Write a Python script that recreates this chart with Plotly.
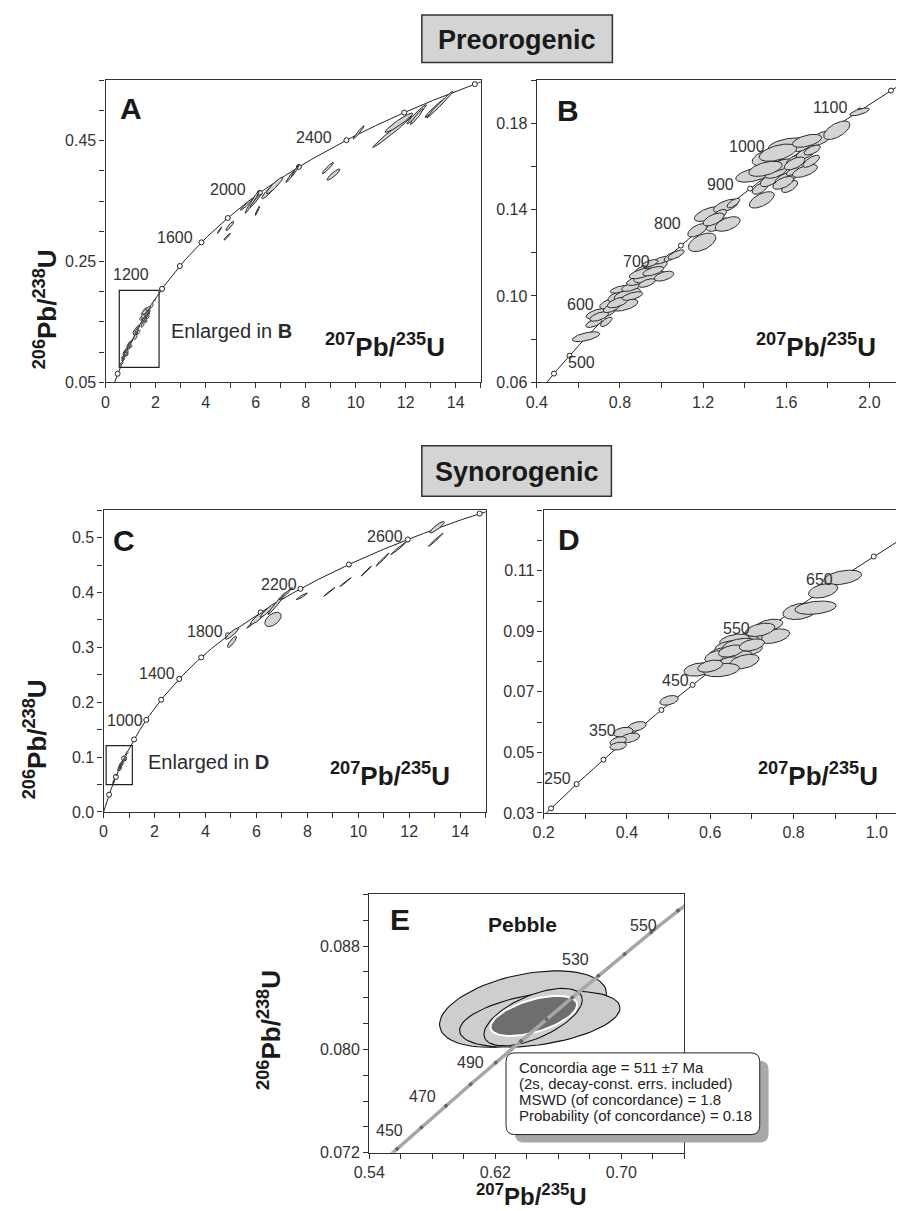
import numpy as np
import plotly.graph_objects as go

W, H = 904, 1211
FONT = "Liberation Sans, Arial, sans-serif"
L238 = 1.55125e-4   # decay constants per Ma
L235 = 9.8485e-4

# ---------------- data ----------------
# Panel B ellipses (also shown inside the box of panel A)
B_cx = [0.637, 0.6745, 0.734, 0.687, 0.745, 0.753, 0.819, 0.781, 0.835, 0.800, 0.855, 0.886, 0.944, 0.918,
        0.9725, 0.999, 0.944, 1.043, 1.070, 1.012, 1.195, 1.173, 1.224, 1.271, 1.318, 1.310, 1.346, 1.278,
        1.482, 1.443, 1.522, 1.616, 1.765, 1.843, 1.953, 1.475, 1.522, 1.553, 1.600, 1.576, 1.647, 1.663,
        1.694, 1.725, 1.616, 1.678, 1.631,
        0.700, 0.760, 0.790, 0.860, 0.905, 0.930, 0.960, 1.250, 1.500, 1.560, 1.640, 1.690, 1.720, 1.585,
        1.700]
B_cy = [0.0811, 0.0874, 0.0880, 0.0918, 0.0923, 0.0966, 0.0958, 0.0997, 0.1008, 0.1031, 0.1043, 0.1072,
        0.1088, 0.1123, 0.1135, 0.1166, 0.1151, 0.1182, 0.1192, 0.1092, 0.1249, 0.1305, 0.1380, 0.1331,
        0.1334, 0.1418, 0.1431, 0.1377, 0.1446, 0.1562, 0.1646, 0.1700, 0.1731, 0.1769, 0.1854, 0.1500,
        0.1538, 0.1577, 0.1546, 0.1608, 0.1631, 0.1592, 0.1662, 0.1677, 0.1508, 0.1692, 0.1577,
        0.0905, 0.0945, 0.0970, 0.1000, 0.1105, 0.1060, 0.1115, 0.1355, 0.1590, 0.1665, 0.1615, 0.1580,
        0.1625, 0.1525, 0.1720]
B_sx = [0.066, 0.039, 0.028, 0.050, 0.031, 0.050, 0.067, 0.039, 0.063, 0.047, 0.047, 0.055, 0.078, 0.047,
        0.055, 0.039, 0.039, 0.031, 0.039, 0.047, 0.066, 0.047, 0.066, 0.055, 0.060, 0.060, 0.031, 0.035,
        0.060, 0.086, 0.086, 0.102, 0.055, 0.063, 0.047, 0.039, 0.047, 0.055, 0.055, 0.055, 0.047, 0.047,
        0.047, 0.039, 0.039, 0.039, 0.031,
        0.045, 0.040, 0.050, 0.050, 0.060, 0.040, 0.050, 0.050, 0.080, 0.090, 0.050, 0.060, 0.040, 0.050,
        0.070]
B_sy = [0.0023, 0.0020, 0.0022, 0.0023, 0.0018, 0.0026, 0.0028, 0.0023, 0.0028, 0.0018, 0.0022, 0.0023,
        0.0028, 0.0023, 0.0028, 0.0018, 0.0018, 0.0022, 0.0022, 0.0023, 0.0043, 0.0031, 0.0034, 0.0031,
        0.0034, 0.0031, 0.0022, 0.0025, 0.0038, 0.0034, 0.0043, 0.0034, 0.0034, 0.0043, 0.0018, 0.0028,
        0.0031, 0.0031, 0.0031, 0.0028, 0.0028, 0.0031, 0.0028, 0.0023, 0.0028, 0.0022, 0.0018,
        0.0022, 0.0022, 0.0025, 0.0020, 0.0025, 0.0020, 0.0022, 0.0030, 0.0035, 0.0040, 0.0030, 0.0030,
        0.0028, 0.0030, 0.0030]
B_rho = [0.6, 0.6, 0.7, 0.6, 0.6, 0.6, 0.5, 0.6, 0.6, 0.6, 0.6, 0.6, 0.5, 0.6, 0.6, 0.6, 0.6, 0.7, 0.7, 0.5,
         0.5, 0.6, 0.6, 0.6, 0.5, 0.6, 0.7, 0.6, 0.6, 0.5, 0.5, 0.4, 0.6, 0.6, 0.7, 0.6, 0.6, 0.6, 0.6, 0.6,
         0.6, 0.6, 0.6, 0.6, 0.6, 0.6, 0.6,
         0.6, 0.6, 0.6, 0.6, 0.6, 0.6, 0.6, 0.6, 0.5, 0.5, 0.6, 0.6, 0.7, 0.6, 0.5]

# Panel A: older grains outside the enlarged box
A_cx = [4.56, 4.97, 4.86, 5.65, 5.87, 6.00, 6.07, 6.50, 6.76, 7.41, 7.58, 8.89, 9.11, 10.12, 11.46, 11.73,
        12.44, 12.44, 13.19, 13.36]
A_cy = [0.302, 0.309, 0.291, 0.345, 0.349, 0.351, 0.334, 0.365, 0.376, 0.392, 0.400, 0.405, 0.394, 0.464,
        0.465, 0.480, 0.494, 0.490, 0.505, 0.510]
A_sx = [0.092, 0.157, 0.13, 0.26, 0.29, 0.22, 0.09, 0.26, 0.33, 0.20, 0.16, 0.22, 0.26, 0.22, 0.78, 0.55,
        0.39, 0.26, 0.42, 0.52]
A_sy = [0.0055, 0.0077, 0.0055, 0.0099, 0.019, 0.011, 0.0077, 0.011, 0.0137, 0.011, 0.010, 0.0093, 0.0093,
        0.011, 0.026, 0.016, 0.016, 0.013, 0.016, 0.022]
A_rho = [0.97, 0.9, 0.95, 0.97, 0.98, 0.97, 0.95, 0.9, 0.93, 0.97, 0.97, 0.95, 0.9, 0.97, 0.99, 0.95,
         0.97, 0.96, 0.98, 0.99]

# Panel D ellipses (also shown inside the box of panel C)
D_cx = [0.918, 0.871, 0.8156, 0.853, 0.741, 0.753, 0.7055, 0.700, 0.686, 0.658, 0.6426, 0.690, 0.627, 0.666,
        0.619, 0.643, 0.682, 0.572, 0.627, 0.611, 0.501, 0.424, 0.391, 0.407, 0.379, 0.379,
        0.670, 0.720, 0.600, 0.650, 0.700]
D_cy = [0.1078, 0.1034, 0.0966, 0.0978, 0.0920, 0.0884, 0.0892, 0.0870, 0.0865, 0.0871, 0.0849, 0.0838,
        0.0827, 0.0816, 0.0800, 0.0794, 0.0800, 0.0774, 0.0772, 0.0816, 0.0672, 0.0586, 0.0567, 0.0548,
        0.0537, 0.0521,
        0.0855, 0.0905, 0.0785, 0.0835, 0.0855]
D_sx = [0.0456, 0.035, 0.041, 0.0495, 0.033, 0.0377, 0.0275, 0.025, 0.0314, 0.0354, 0.0314, 0.035, 0.0314,
        0.035, 0.0275, 0.0275, 0.035, 0.035, 0.043, 0.024, 0.022, 0.022, 0.0236, 0.0236, 0.0197, 0.0197,
        0.040, 0.035, 0.030, 0.030, 0.030]
D_sy = [0.0024, 0.0024, 0.0027, 0.0022, 0.0020, 0.0024, 0.0020, 0.0025, 0.0020, 0.0020, 0.0020, 0.0020,
        0.0020, 0.0020, 0.0020, 0.0022, 0.0024, 0.0022, 0.0022, 0.0020, 0.0016, 0.0016, 0.0016, 0.0016,
        0.0015, 0.0013,
        0.0022, 0.0022, 0.0020, 0.0020, 0.0020]
D_rho = [0.4, 0.4, 0.3, 0.3, 0.4, 0.4, 0.4, 0.5, 0.4, 0.4, 0.4, 0.4, 0.4, 0.4, 0.4, 0.4, 0.4, 0.3, 0.3, 0.4,
         0.4, 0.4, 0.3, 0.4, 0.4, 0.3,
         0.4, 0.4, 0.4, 0.4, 0.4]

# Panel C: older grains outside the enlarged box
C_cx = [5.04, 5.04, 5.88, 6.07, 6.46, 6.80, 7.16, 6.65, 7.78, 8.86, 9.50, 10.31, 10.95, 11.59, 13.04, 13.09]
C_cy = [0.325, 0.310, 0.346, 0.354, 0.368, 0.380, 0.398, 0.351, 0.393, 0.401, 0.419, 0.439, 0.460, 0.481,
        0.496, 0.519]
C_sx = [0.26, 0.18, 0.26, 0.30, 0.32, 0.35, 0.26, 0.32, 0.22, 0.22, 0.22, 0.20, 0.26, 0.32, 0.29, 0.29]
C_sy = [0.0103, 0.0103, 0.011, 0.012, 0.0133, 0.020, 0.011, 0.013, 0.006, 0.0079, 0.0079, 0.009, 0.012,
        0.012, 0.012, 0.0106]
C_rho = [0.9, 0.85, 0.98, 0.9, 0.95, 0.98, 0.98, 0.5, 0.95, 0.99, 0.99, 0.99, 0.99, 0.99, 0.99, 0.9]

# Panel E (pebble): three data ellipses and the concordia-age ellipse
E_cx = [0.6376, 0.6482, 0.6440]
E_cy = [0.08312, 0.08234, 0.0825]
E_sx = [0.053, 0.0509, 0.0312]
E_sy = [0.00296, 0.00217, 0.00222]
E_rho = [0.4, 0.4, 0.6]
AGE_cx, AGE_cy, AGE_sx, AGE_sy, AGE_rho = 0.6444, 0.08259, 0.0275, 0.00155, 0.55

# concordia age ticks (Ma)
AC_ticks = [200, 400, 600, 800, 1000, 1200, 1400, 1600, 1800, 2000, 2200, 2400, 2600, 2800]
B_ticks = [400, 450, 500, 550, 600, 650, 700, 750, 800, 850, 900, 950, 1000, 1050, 1100, 1150, 1200]
D_ticks = [200, 250, 300, 350, 400, 450, 500, 550, 600, 650, 700, 750]
E_ticks = [440, 450, 460, 470, 480, 490, 500, 510, 520, 530, 540, 550, 560]

A_labels = [1200, 1600, 2000, 2400]
B_labels = [500, 600, 700, 800, 900, 1000, 1100]
C_labels = [1000, 1400, 1800, 2200, 2600]
D_labels = [250, 350, 450, 550, 650, 750]
E_labels = [450, 470, 490, 530, 550]

BOX_TEXT = ["Concordia age = 511 \u00b17 Ma", "(2s, decay-const. errs. included)",
            "MSWD (of concordance) = 1.8", "Probability (of concordance) = 0.18"]

# ---------------- styling / layout (pixels) ----------------
A_lab_off = [(-31, -14), (-26, -5), (-32, -3), (-32, -3)]
B_lab_off = [(-4, 25), (-41, 3), (-23, -3), (-35, -3), (-30, -4), (-55, -3), (-29, -3)]
C_lab_off = [(-21, 1), (-22, -5), (-23, -4), (-21, -4), (-23, -3)]
D_lab_off = [(-19, -6), (-29, -4), (-17, -4), (-23, -6), (-14, -3), (-31, -5)]
E_lab_off = [(-8, -18), (-23, -9), (-25, 0), (-23, -16), (-8, -7)]

PANELS = {  # x0, x1, y0(top), y1(bottom) in px
    "A": (83, 465, 73, 377),
    "B": (522, 903, 73, 377),
    "C": (81, 470, 506, 810),
    "D": (529, 904, 506, 811),
    "E": (351.5, 672.3, 893, 1153.3),
}

FILL = "#d3d3d3"
EDGE = "#2a2a2a"
TXT = "#2b2b2b"


def conc(t):
    t = np.asarray(t, float)
    return np.exp(L235 * t) - 1, np.exp(L238 * t) - 1


def ellipse(cx, cy, sx, sy, rho, n=80):
    t = np.linspace(0, 2 * np.pi, n)
    x = cx + sx * np.cos(t)
    y = cy + sy * (rho * np.cos(t) + np.sqrt(1 - rho ** 2) * np.sin(t))
    return x, y


def px2paper(x, y):
    return x / W, 1 - y / H


fig = go.Figure()
axmap = {"A": ("x", "y"), "B": ("x2", "y2"), "C": ("x3", "y3"), "D": ("x4", "y4"), "E": ("x5", "y5")}

curve_t = np.linspace(0, 3000, 1500)


def add_curve(p, ticks, color="#222", width=1, msize=5, mcolor="white", mline="#222"):
    xa, ya = axmap[p]
    cx, cy = conc(curve_t)
    fig.add_trace(go.Scatter(x=cx, y=cy, mode="lines", line=dict(color=color, width=width),
                             xaxis=xa, yaxis=ya, hoverinfo="skip", showlegend=False))
    tx, ty = conc(ticks)
    fig.add_trace(go.Scatter(x=tx, y=ty, mode="markers",
                             marker=dict(size=msize, color=mcolor, line=dict(color=mline, width=1)),
                             xaxis=xa, yaxis=ya, hoverinfo="skip", showlegend=False))


def add_ellipses(p, cxs, cys, sxs, sys, rhos, fill=FILL, edge=EDGE, lw=1):
    xa, ya = axmap[p]
    for cx, cy, sx, sy, r in zip(cxs, cys, sxs, sys, rhos):
        ex, ey = ellipse(cx, cy, sx, sy, r)
        fig.add_trace(go.Scatter(x=ex, y=ey, mode="lines", fill="toself", fillcolor=fill,
                                 line=dict(color=edge, width=lw), xaxis=xa, yaxis=ya,
                                 hoverinfo="skip", showlegend=False))


# A
add_curve("A", AC_ticks)
add_ellipses("A", B_cx, B_cy, B_sx, B_sy, B_rho, lw=0.8)
add_ellipses("A", A_cx, A_cy, A_sx, A_sy, A_rho)
# B
add_curve("B", B_ticks)
add_ellipses("B", B_cx, B_cy, B_sx, B_sy, B_rho)
# C
add_curve("C", AC_ticks)
add_ellipses("C", D_cx, D_cy, D_sx, D_sy, D_rho, lw=0.8)
add_ellipses("C", C_cx, C_cy, C_sx, C_sy, C_rho)
# D
add_curve("D", D_ticks)
add_ellipses("D", D_cx, D_cy, D_sx, D_sy, D_rho)
# E
add_ellipses("E", E_cx, E_cy, E_sx, E_sy, E_rho, fill="#cecece", edge="#111", lw=1.1)
add_ellipses("E", [AGE_cx], [AGE_cy], [AGE_sx], [AGE_sy], [AGE_rho], fill="#6e6e6e", edge="white", lw=2)
add_curve("E", E_ticks, color="#a6a6a6", width=3.5, msize=3, mcolor="#666", mline="#666")

# axes
ax_specs = {
    "A": dict(xr=[0, 15], yr=[0.05, 0.55], xt=dict(tick0=0, dtick=2), xm=1,
              yt=dict(tickvals=[0.05, 0.25, 0.45]), ym=0.05, xf="d", yf=".2f"),
    "B": dict(xr=[0.4, 2.2], yr=[0.06, 0.20], xt=dict(tick0=0.4, dtick=0.4), xm=0.2,
              yt=dict(tickvals=[0.06, 0.10, 0.14, 0.18]), ym=0.02, xf=".1f", yf=".2f"),
    "C": dict(xr=[0, 15], yr=[0, 0.55], xt=dict(tick0=0, dtick=2), xm=1,
              yt=dict(tick0=0, dtick=0.1), ym=0.05, xf="d", yf=".1f"),
    "D": dict(xr=[0.2, 0.2 + 375 / 424], yr=[0.03, 0.13], xt=dict(tick0=0.2, dtick=0.2), xm=0.1,
              yt=dict(tickvals=[0.03, 0.05, 0.07, 0.09, 0.11]), ym=0.01, xf=".1f", yf=".2f"),
    "E": dict(xr=[0.54, 0.74], yr=[0.072, 0.092], xt=dict(tickvals=[0.54, 0.62, 0.70]), xm=0.02,
              yt=dict(tickvals=[0.072, 0.080, 0.088]), ym=0.002, xf=".2f", yf=".3f"),
}
names = ["A", "B", "C", "D", "E"]
for i, p in enumerate(names):
    x0, x1, y0, y1 = PANELS[p]
    s = ax_specs[p]
    suf = "" if i == 0 else str(i + 1)
    common = dict(showline=True, linecolor="#333", linewidth=1.3, ticks="outside", ticklen=5,
                  tickwidth=1, tickcolor="#333", showgrid=False, zeroline=False,
                  tickfont=dict(family=FONT, size=16, color="#333"))
    xa = dict(common, domain=[x0 / W, min(x1 / W, 1)], range=s["xr"], anchor="y" + suf,
              mirror=True, tickformat=s["xf"],
              minor=dict(ticks="outside", ticklen=5, tickcolor="#333", dtick=s["xm"], tick0=s["xr"][0]),
              **s["xt"])
    ya = dict(common, domain=[1 - y1 / H, 1 - y0 / H], range=s["yr"], anchor="x" + suf,
              mirror=(p != "D"), tickformat=s["yf"],
              minor=dict(ticks="outside", ticklen=5, tickcolor="#333", dtick=s["ym"], tick0=s["yr"][0]),
              **s["yt"])
    fig.layout["xaxis" + suf] = xa
    fig.layout["yaxis" + suf] = ya

annotations = []
shapes = []


def ann(px, py, text, size, bold=False, xanchor="center", angle=0, color=TXT):
    x, y = px2paper(px, py)
    annotations.append(dict(x=x, y=y, xref="paper", yref="paper", text=("<b>%s</b>" % text) if bold else text,
                            showarrow=False, xanchor=xanchor, yanchor="middle", textangle=angle,
                            font=dict(family=FONT, size=size, color=color)))


# age labels along concordia
for p, labs, offs in [("A", A_labels, A_lab_off), ("B", B_labels, B_lab_off), ("C", C_labels, C_lab_off),
                      ("D", D_labels, D_lab_off), ("E", E_labels, E_lab_off)]:
    xa, ya = axmap[p]
    lx, ly = conc(labs)
    for a, x, y, (dx, dy) in zip(labs, lx, ly, offs):
        annotations.append(dict(x=x, y=y, xref=xa, yref=ya, text=str(a), showarrow=False,
                                xanchor="center", yanchor="middle", xshift=dx, yshift=-dy,
                                font=dict(family=FONT, size=16, color="#333")))

# panel letters
for p, (lx, ly) in zip(names, [(109, 101), (554, 103), (102, 536), (555, 535), (383, 918)]):
    ann(lx, ly, p, 30, bold=True, color="#1a1a1a")

RATIO_X = "<sup>207</sup>Pb/<sup>235</sup>U"
RATIO_Y = "<sup>206</sup>Pb/<sup>238</sup>U"
for (px, py, sz) in [(368, 340, 26), (806, 340, 26), (373, 772, 26), (808, 772, 26), (517, 1196, 24)]:
    ann(px, py, RATIO_X, sz, bold=True, color="#1a1a1a")
for (px, py) in [(22, 304), (12, 737), (250, 1030)]:
    ann(px, py, RATIO_Y, 26, bold=True, angle=-90, color="#1a1a1a")

ann(148, 325, "Enlarged in <b>B</b>", 20, xanchor="left")
ann(124, 760, "Enlarged in <b>D</b>", 20, xanchor="left")
ann(507, 923, "Pebble", 21, bold=True, color="#1a1a1a")

# headings in grey boxes
for (bx0, by0, bx1, by1, title) in [(405, 7, 599, 55, "Preorogenic"), (405, 441, 598, 492, "Synorogenic")]:
    a0, b0 = px2paper(bx0, by0)
    a1, b1 = px2paper(bx1, by1)
    shapes.append(dict(type="rect", xref="paper", yref="paper", x0=a0, y0=b1, x1=a1, y1=b0,
                       fillcolor="#d4d4d4", line=dict(color="#333", width=1.5), layer="below"))
    ann((bx0 + bx1) / 2, (by0 + by1) / 2 + 1, title, 27, bold=True, color="#1a1a1a")

# enlarged-area boxes (data coordinates)
shapes.append(dict(type="rect", xref="x", yref="y", x0=0.55, x1=2.14, y0=0.0747, y1=0.202,
                   line=dict(color="#222", width=1.2)))
shapes.append(dict(type="rect", xref="x3", yref="y3", x0=0.1, x1=1.13, y0=0.05, y1=0.121,
                   line=dict(color="#222", width=1.2)))


def rrect_path(x0, y0, x1, y1, r):
    def P(x, y):
        a, b = px2paper(x, y)
        return "%.6f,%.6f" % (a, b)
    return ("M %s L %s Q %s %s L %s Q %s %s L %s Q %s %s L %s Q %s %s Z" % (
        P(x0 + r, y0), P(x1 - r, y0), P(x1, y0), P(x1, y0 + r), P(x1, y1 - r), P(x1, y1), P(x1 - r, y1),
        P(x0 + r, y1), P(x0, y1), P(x0, y1 - r), P(x0, y0 + r), P(x0, y0), P(x0 + r, y0)))


bx0, by0, bx1, by1 = 490.7, 1052.7, 749, 1135
shapes.append(dict(type="path", xref="paper", yref="paper", path=rrect_path(bx0 + 9, by0 + 8, bx1 + 9, by1 + 8, 9),
                   fillcolor="#a8a8a8", line=dict(width=0)))
shapes.append(dict(type="path", xref="paper", yref="paper", path=rrect_path(bx0, by0, bx1, by1, 9),
                   fillcolor="white", line=dict(color="#222", width=1)))
for k, line in enumerate(BOX_TEXT):
    ann(501.5, 1067 + k * 16.3, line, 15, xanchor="left", color="#222")

fig.update_layout(width=W, height=H, margin=dict(l=0, r=0, t=0, b=0), paper_bgcolor="white",
                  plot_bgcolor="white", showlegend=False, annotations=annotations, shapes=shapes,
                  font=dict(family=FONT))
fig.write_html("out.html")
